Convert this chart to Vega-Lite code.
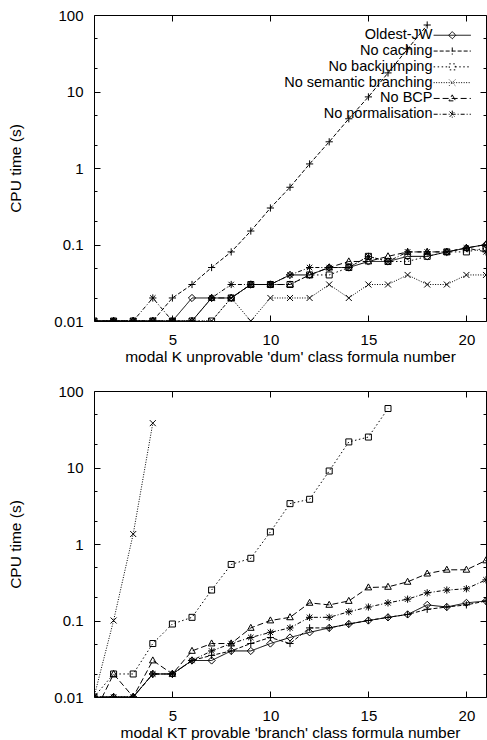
{
  "$schema": "https://vega.github.io/schema/vega-lite/v6.json",
  "padding": {"left": 8, "top": 7, "right": 0, "bottom": 0},
  "bounds": "flush",
  "spacing": 70,
  "config": {
    "font": "Liberation Sans",
    "view": {"stroke": "black", "strokeWidth": 1},
    "axis": {"grid": false, "domain": false, "tickColor": "black", "tickWidth": 1, "labelColor": "black", "labelFontSize": 15, "titleColor": "black", "titleFontSize": 15.5, "titleFontWeight": "normal", "labelFont": "Liberation Sans", "titleFont": "Liberation Sans"}
  },
  "datasets": {
    "rows": [
      {"p":"K","x":1,"Oldest-JW":0.01,"No caching":0.01,"No backjumping":0.01,"No semantic branching":0.01,"No BCP":0.01,"No normalisation":0.01},
      {"p":"K","x":2,"Oldest-JW":0.01,"No caching":0.01,"No backjumping":0.01,"No semantic branching":0.01,"No BCP":0.01,"No normalisation":0.01},
      {"p":"K","x":3,"Oldest-JW":0.01,"No caching":0.01,"No backjumping":0.01,"No semantic branching":0.01,"No BCP":0.01,"No normalisation":0.01},
      {"p":"K","x":4,"Oldest-JW":0.01,"No caching":0.01,"No backjumping":0.01,"No semantic branching":0.01,"No BCP":0.01,"No normalisation":0.02},
      {"p":"K","x":5,"Oldest-JW":0.01,"No caching":0.02,"No backjumping":0.01,"No semantic branching":0.01,"No BCP":0.01,"No normalisation":0.01},
      {"p":"K","x":6,"Oldest-JW":0.02,"No caching":0.03,"No backjumping":0.01,"No semantic branching":0.01,"No BCP":0.01,"No normalisation":0.01},
      {"p":"K","x":7,"Oldest-JW":0.02,"No caching":0.05,"No backjumping":0.01,"No semantic branching":0.01,"No BCP":0.02,"No normalisation":0.02},
      {"p":"K","x":8,"Oldest-JW":0.02,"No caching":0.08,"No backjumping":0.02,"No semantic branching":0.02,"No BCP":0.02,"No normalisation":0.03},
      {"p":"K","x":9,"Oldest-JW":0.03,"No caching":0.15,"No backjumping":0.03,"No semantic branching":0.01,"No BCP":0.03,"No normalisation":0.03},
      {"p":"K","x":10,"Oldest-JW":0.03,"No caching":0.3,"No backjumping":0.03,"No semantic branching":0.02,"No BCP":0.03,"No normalisation":0.03},
      {"p":"K","x":11,"Oldest-JW":0.04,"No caching":0.56,"No backjumping":0.03,"No semantic branching":0.02,"No BCP":0.03,"No normalisation":0.04},
      {"p":"K","x":12,"Oldest-JW":0.04,"No caching":1.13,"No backjumping":0.04,"No semantic branching":0.02,"No BCP":0.04,"No normalisation":0.05},
      {"p":"K","x":13,"Oldest-JW":0.05,"No caching":2.2,"No backjumping":0.04,"No semantic branching":0.03,"No BCP":0.05,"No normalisation":0.05},
      {"p":"K","x":14,"Oldest-JW":0.05,"No caching":4.4,"No backjumping":0.05,"No semantic branching":0.02,"No BCP":0.06,"No normalisation":0.05},
      {"p":"K","x":15,"Oldest-JW":0.06,"No caching":8.5,"No backjumping":0.07,"No semantic branching":0.03,"No BCP":0.06,"No normalisation":0.07},
      {"p":"K","x":16,"Oldest-JW":0.06,"No caching":17.5,"No backjumping":0.06,"No semantic branching":0.03,"No BCP":0.07,"No normalisation":0.06},
      {"p":"K","x":17,"Oldest-JW":0.07,"No caching":36,"No backjumping":0.06,"No semantic branching":0.04,"No BCP":0.08,"No normalisation":0.08},
      {"p":"K","x":18,"Oldest-JW":0.07,"No caching":74,"No backjumping":0.07,"No semantic branching":0.03,"No BCP":0.08,"No normalisation":0.08},
      {"p":"K","x":19,"Oldest-JW":0.08,"No caching":null,"No backjumping":0.08,"No semantic branching":0.03,"No BCP":0.08,"No normalisation":0.08},
      {"p":"K","x":20,"Oldest-JW":0.09,"No caching":null,"No backjumping":0.08,"No semantic branching":0.04,"No BCP":0.09,"No normalisation":0.09},
      {"p":"K","x":21,"Oldest-JW":0.1,"No caching":null,"No backjumping":0.09,"No semantic branching":0.04,"No BCP":0.1,"No normalisation":0.08},
      {"p":"KT","x":1,"Oldest-JW":0.01,"No caching":0.01,"No backjumping":0.01,"No semantic branching":0.01,"No BCP":0.006,"No normalisation":0.01},
      {"p":"KT","x":2,"Oldest-JW":0.01,"No caching":0.01,"No backjumping":0.02,"No semantic branching":0.1,"No BCP":0.02,"No normalisation":0.01},
      {"p":"KT","x":3,"Oldest-JW":0.01,"No caching":0.01,"No backjumping":0.02,"No semantic branching":1.35,"No BCP":0.01,"No normalisation":0.01},
      {"p":"KT","x":4,"Oldest-JW":0.02,"No caching":0.02,"No backjumping":0.05,"No semantic branching":38,"No BCP":0.03,"No normalisation":0.02},
      {"p":"KT","x":5,"Oldest-JW":0.02,"No caching":0.02,"No backjumping":0.09,"No semantic branching":null,"No BCP":0.02,"No normalisation":0.02},
      {"p":"KT","x":6,"Oldest-JW":0.03,"No caching":0.03,"No backjumping":0.11,"No semantic branching":null,"No BCP":0.04,"No normalisation":0.03},
      {"p":"KT","x":7,"Oldest-JW":0.03,"No caching":0.035,"No backjumping":0.25,"No semantic branching":null,"No BCP":0.05,"No normalisation":0.04},
      {"p":"KT","x":8,"Oldest-JW":0.04,"No caching":0.04,"No backjumping":0.54,"No semantic branching":null,"No BCP":0.05,"No normalisation":0.05},
      {"p":"KT","x":9,"Oldest-JW":0.04,"No caching":0.05,"No backjumping":0.65,"No semantic branching":null,"No BCP":0.08,"No normalisation":0.06},
      {"p":"KT","x":10,"Oldest-JW":0.05,"No caching":0.06,"No backjumping":1.44,"No semantic branching":null,"No BCP":0.1,"No normalisation":0.07},
      {"p":"KT","x":11,"Oldest-JW":0.06,"No caching":0.05,"No backjumping":3.37,"No semantic branching":null,"No BCP":0.11,"No normalisation":0.08},
      {"p":"KT","x":12,"Oldest-JW":0.07,"No caching":0.08,"No backjumping":3.84,"No semantic branching":null,"No BCP":0.17,"No normalisation":0.11},
      {"p":"KT","x":13,"Oldest-JW":0.08,"No caching":0.08,"No backjumping":9,"No semantic branching":null,"No BCP":0.16,"No normalisation":0.11},
      {"p":"KT","x":14,"Oldest-JW":0.09,"No caching":0.09,"No backjumping":21.6,"No semantic branching":null,"No BCP":0.18,"No normalisation":0.13},
      {"p":"KT","x":15,"Oldest-JW":0.1,"No caching":0.1,"No backjumping":25,"No semantic branching":null,"No BCP":0.27,"No normalisation":0.15},
      {"p":"KT","x":16,"Oldest-JW":0.11,"No caching":0.11,"No backjumping":59,"No semantic branching":null,"No BCP":0.275,"No normalisation":0.17},
      {"p":"KT","x":17,"Oldest-JW":0.12,"No caching":0.12,"No backjumping":null,"No semantic branching":null,"No BCP":0.32,"No normalisation":0.19},
      {"p":"KT","x":18,"Oldest-JW":0.16,"No caching":0.14,"No backjumping":null,"No semantic branching":null,"No BCP":0.41,"No normalisation":0.23},
      {"p":"KT","x":19,"Oldest-JW":0.15,"No caching":0.15,"No backjumping":null,"No semantic branching":null,"No BCP":0.46,"No normalisation":0.25},
      {"p":"KT","x":20,"Oldest-JW":0.17,"No caching":0.16,"No backjumping":null,"No semantic branching":null,"No BCP":0.46,"No normalisation":0.26},
      {"p":"KT","x":21,"Oldest-JW":0.18,"No caching":0.18,"No backjumping":null,"No semantic branching":null,"No BCP":0.61,"No normalisation":0.34}
    ]
  },
  "vconcat": [
    {
      "width": 392, "height": 306,
      "data": {"name": "rows"},
      "transform": [
        {"filter": "datum.p === 'K'"},
        {"fold": ["Oldest-JW","No caching","No backjumping","No semantic branching","No BCP","No normalisation"], "as": ["s","t"]},
        {"filter": "isValid(datum.t)"}
      ],
      "layer": [
        {
          "mark": {"type": "line", "stroke": "black", "strokeWidth": 1, "clip": true},
          "encoding": {
            "x": {"field": "x", "type": "quantitative", "scale": {"domain": [1,21], "nice": false, "zero": false},
                  "axis": {"orient": "bottom", "values": [5,10,15,20], "tickSize": -6, "labelPadding": 17, "title": "modal K unprovable 'dum' class formula number", "titlePadding": 2}},
            "y": {"field": "t", "type": "quantitative", "scale": {"type": "log", "domain": [0.01,100], "nice": false},
                  "axis": {"orient": "left", "values": [0.01,0.1,1,10,100], "format": "~g", "tickSize": -6, "labelPadding": 17, "title": "CPU time (s)", "titlePadding": 30}},
            "strokeDash": {"field": "s", "type": "nominal",
              "scale": {"domain": ["Oldest-JW","No caching","No backjumping","No semantic branching","No BCP","No normalisation"],
                        "range": [[1,0],[4,2],[1.5,2.5],[1,1.5],[6,3],[4,2,1,2]]},
              "legend": {"orient": "none", "legendX": 181, "legendY": 13, "title": null, "symbolSize": 144, "symbolStrokeWidth": 1, "symbolStrokeColor": "black", "symbolFillColor": "transparent", "symbolOffset": 170, "labelAlign": "right", "labelOffset": -27, "labelFontSize": 14.5, "labelFont": "Liberation Sans", "labelColor": "black", "rowPadding": 0.8, "padding": 0, "labelLimit": 300,
                "encode": {"symbols": {"update": {"shape": {"signal": "datum.value === 'Oldest-JW' ? 'M-3.1,0H3.1M0,-0.6L0.6,0L0,0.6L-0.6,0Z' : datum.value === 'No caching' ? 'M-3.1,0H3.1M0,-0.6V0.6' : datum.value === 'No backjumping' ? 'M-3.1,0H-0.5M0.5,0H3.1M-0.5,-0.5H0.5V0.5H-0.5Z' : datum.value === 'No semantic branching' ? 'M-3.1,0H3.1M-0.5,-0.5L0.5,0.5M-0.5,0.5L0.5,-0.5' : datum.value === 'No BCP' ? 'M-3.1,0H3.1M0,-0.6L0.55,0.4H-0.55Z' : 'M-3.1,0H3.1M0,-0.6V0.6M-0.45,-0.45L0.45,0.45M-0.45,0.45L0.45,-0.45'"}}}}}
            }
          }
        },
        {
          "mark": {"type": "point", "filled": false, "stroke": "black", "strokeWidth": 1, "size": 36, "clip": true, "opacity": 1},
          "encoding": {
            "x": {"field": "x", "type": "quantitative", "axis": {"orient": "top", "values": [5,10,15,20], "labels": false, "tickSize": -6, "title": null}},
            "y": {"field": "t", "type": "quantitative", "axis": {"orient": "right", "values": [0.01,0.1,1,10,100], "labels": false, "tickSize": -6, "title": null}},
            "shape": {"field": "s", "type": "nominal",
              "scale": {"domain": ["No caching","Oldest-JW","No backjumping","No semantic branching","No BCP","No normalisation"],
                        "range": ["M-1.2,0H1.2M0,-1.2V1.2","M0,-1.2L1.2,0L0,1.2L-1.2,0Z","M-1,-1H1V1H-1Z","M-1,-1L1,1M-1,1L1,-1","M0,-1.2L1.1,0.8H-1.1Z","M-1.2,0H1.2M0,-1.2V1.2M-0.9,-0.9L0.9,0.9M-0.9,0.9L0.9,-0.9"]},
              "legend": null}
          }
        },
        {
          "mark": {"type": "point", "opacity": 0},
          "encoding": {
            "x": {"field": "x", "type": "quantitative", "axis": null},
            "y": {"field": "t", "type": "quantitative", "axis": {"orient": "left", "values": [0.02,0.05,0.2,0.5,2,5,20,50], "labels": false, "tickSize": -3, "title": null}}
          }
        },
        {
          "mark": {"type": "point", "opacity": 0},
          "encoding": {
            "x": {"field": "x", "type": "quantitative", "axis": null},
            "y": {"field": "t", "type": "quantitative", "axis": {"orient": "right", "values": [0.02,0.05,0.2,0.5,2,5,20,50], "labels": false, "tickSize": -3, "title": null}}
          }
        }
      ],
      "resolve": {"axis": {"x": "independent", "y": "independent"}}
    },
    {
      "width": 392, "height": 306,
      "data": {"name": "rows"},
      "transform": [
        {"filter": "datum.p === 'KT'"},
        {"fold": ["Oldest-JW","No caching","No backjumping","No semantic branching","No BCP","No normalisation"], "as": ["s","t"]},
        {"filter": "isValid(datum.t)"}
      ],
      "layer": [
        {
          "mark": {"type": "line", "stroke": "black", "strokeWidth": 1, "clip": true},
          "encoding": {
            "x": {"field": "x", "type": "quantitative", "scale": {"domain": [1,21], "nice": false, "zero": false},
                  "axis": {"orient": "bottom", "values": [5,10,15,20], "tickSize": -6, "labelPadding": 17, "title": "modal KT provable 'branch' class formula number", "titlePadding": 2}},
            "y": {"field": "t", "type": "quantitative", "scale": {"type": "log", "domain": [0.01,100], "nice": false},
                  "axis": {"orient": "left", "values": [0.01,0.1,1,10,100], "format": "~g", "tickSize": -6, "labelPadding": 17, "title": "CPU time (s)", "titlePadding": 30}},
            "strokeDash": {"field": "s", "type": "nominal",
              "scale": {"domain": ["Oldest-JW","No caching","No backjumping","No semantic branching","No BCP","No normalisation"],
                        "range": [[1,0],[4,2],[1.5,2.5],[1,1.5],[6,3],[4,2,1,2]]},
              "legend": {"orient": "none", "legendX": 181, "legendY": 13, "title": null, "symbolSize": 144, "symbolStrokeWidth": 1, "symbolStrokeColor": "black", "symbolFillColor": "transparent", "symbolOffset": 170, "labelAlign": "right", "labelOffset": -27, "labelFontSize": 14.5, "labelFont": "Liberation Sans", "labelColor": "black", "rowPadding": 0.8, "padding": 0, "labelLimit": 300,
                "encode": {"symbols": {"update": {"shape": {"signal": "datum.value === 'Oldest-JW' ? 'M-3.1,0H3.1M0,-0.6L0.6,0L0,0.6L-0.6,0Z' : datum.value === 'No caching' ? 'M-3.1,0H3.1M0,-0.6V0.6' : datum.value === 'No backjumping' ? 'M-3.1,0H-0.5M0.5,0H3.1M-0.5,-0.5H0.5V0.5H-0.5Z' : datum.value === 'No semantic branching' ? 'M-3.1,0H3.1M-0.5,-0.5L0.5,0.5M-0.5,0.5L0.5,-0.5' : datum.value === 'No BCP' ? 'M-3.1,0H3.1M0,-0.6L0.55,0.4H-0.55Z' : 'M-3.1,0H3.1M0,-0.6V0.6M-0.45,-0.45L0.45,0.45M-0.45,0.45L0.45,-0.45'"}}}}}
            }
          }
        },
        {
          "mark": {"type": "point", "filled": false, "stroke": "black", "strokeWidth": 1, "size": 36, "clip": true, "opacity": 1},
          "encoding": {
            "x": {"field": "x", "type": "quantitative", "axis": {"orient": "top", "values": [5,10,15,20], "labels": false, "tickSize": -6, "title": null}},
            "y": {"field": "t", "type": "quantitative", "axis": {"orient": "right", "values": [0.01,0.1,1,10,100], "labels": false, "tickSize": -6, "title": null}},
            "shape": {"field": "s", "type": "nominal",
              "scale": {"domain": ["No caching","Oldest-JW","No backjumping","No semantic branching","No BCP","No normalisation"],
                        "range": ["M-1.2,0H1.2M0,-1.2V1.2","M0,-1.2L1.2,0L0,1.2L-1.2,0Z","M-1,-1H1V1H-1Z","M-1,-1L1,1M-1,1L1,-1","M0,-1.2L1.1,0.8H-1.1Z","M-1.2,0H1.2M0,-1.2V1.2M-0.9,-0.9L0.9,0.9M-0.9,0.9L0.9,-0.9"]},
              "legend": null}
          }
        },
        {
          "mark": {"type": "point", "opacity": 0},
          "encoding": {
            "x": {"field": "x", "type": "quantitative", "axis": null},
            "y": {"field": "t", "type": "quantitative", "axis": {"orient": "left", "values": [0.02,0.05,0.2,0.5,2,5,20,50], "labels": false, "tickSize": -3, "title": null}}
          }
        },
        {
          "mark": {"type": "point", "opacity": 0},
          "encoding": {
            "x": {"field": "x", "type": "quantitative", "axis": null},
            "y": {"field": "t", "type": "quantitative", "axis": {"orient": "right", "values": [0.02,0.05,0.2,0.5,2,5,20,50], "labels": false, "tickSize": -3, "title": null}}
          }
        }
      ],
      "resolve": {"axis": {"x": "independent", "y": "independent"}}
    }
  ]
}
